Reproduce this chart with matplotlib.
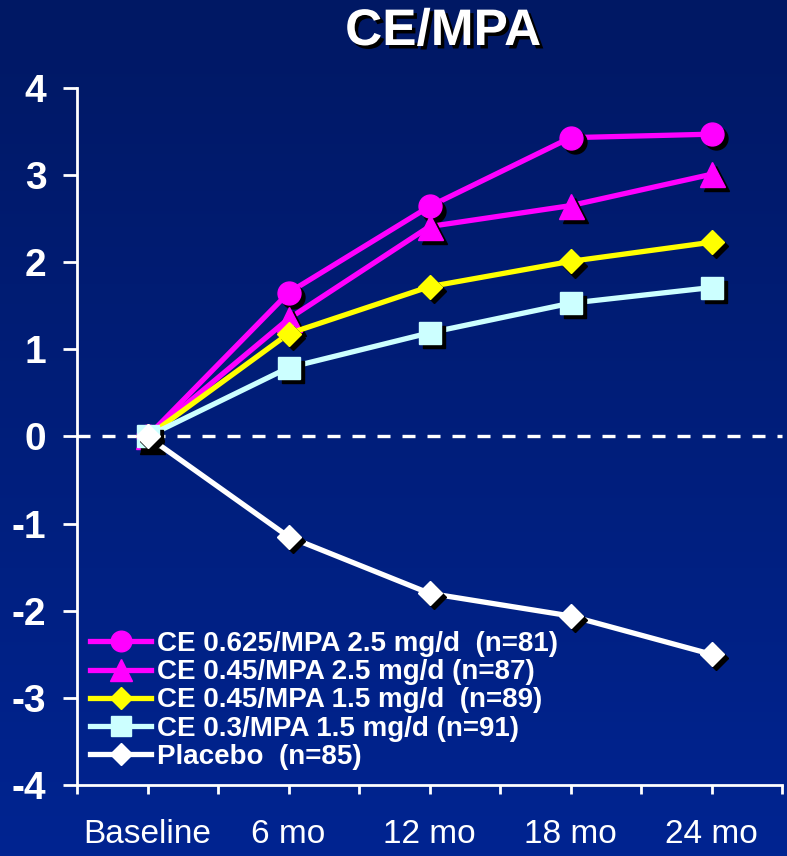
import numpy as np
import matplotlib
matplotlib.use("Agg")
import matplotlib.pyplot as plt
import matplotlib.patheffects as pe
from matplotlib.transforms import offset_copy

# ---- data ----
timepoints = ["Baseline", "6 mo", "12 mo", "18 mo", "24 mo"]
ce0625_mpa25 = [0.0, 1.65, 2.64, 3.43, 3.47]
ce045_mpa25 = [0.0, 1.35, 2.41, 2.65, 3.01]
ce045_mpa15 = [0.0, 1.18, 1.72, 2.01, 2.23]
ce03_mpa15 = [0.0, 0.79, 1.19, 1.53, 1.71]
placebo = [0.0, -1.15, -1.80, -2.06, -2.50]

series_labels = [
    "CE 0.625/MPA 2.5 mg/d  (n=81)",
    "CE 0.45/MPA 2.5 mg/d (n=87)",
    "CE 0.45/MPA 1.5 mg/d  (n=89)",
    "CE 0.3/MPA 1.5 mg/d (n=91)",
    "Placebo  (n=85)",
]
y_ticks = [4, 3, 2, 1, 0, -1, -2, -3, -4]
y_tick_labels = ["4", "3", "2", "1", "0", "-1", "-2", "-3", "-4"]
title_text = "CE/MPA"

series = [ce0625_mpa25, ce045_mpa25, ce045_mpa15, ce03_mpa15, placebo]
colors = ["#FF00FF", "#FF00FF", "#FFFF00", "#CCFFFF", "#FFFFFF"]
markers = ["o", "^", "D", "s", "D"]
msizes = [16.5, 18, 12.5, 16, 12.5]

BOLD = ["Liberation Sans", "DejaVu Sans"]

W, H = 787, 856
fig = plt.figure(figsize=(W / 100, H / 100), dpi=100)

# navy gradient background
bg = fig.add_axes([0, 0, 1, 1], zorder=-10)
top = np.array([0, 24, 100]) / 255
bot = np.array([0, 36, 145]) / 255
t = np.linspace(0, 1, 256)[:, None, None]
grad = top * (1 - t) + bot * t
bg.imshow(np.repeat(grad, 2, axis=1), aspect="auto", extent=[0, 1, 0, 1])
bg.set_axis_off()

ax = fig.add_axes([77 / W, 71 / H, 705 / W, 697 / H])
ax.set_facecolor("none")

x = np.arange(len(timepoints))
shadow_tr = offset_copy(ax.transData, fig=fig, x=3, y=-3, units="points")

for i, (vals, c, m, ms, lab) in enumerate(zip(series, colors, markers, msizes, series_labels)):
    z = 3 + i
    ax.plot(x, vals, color=c, lw=3.8, zorder=z, solid_capstyle="round")
    ax.plot(x, vals, ls="none", marker=m, ms=ms, color="black", mec="black",
            transform=shadow_tr, zorder=z + 0.1)
    ax.plot(x, vals, ls="none", marker=m, ms=ms, color=c, mec=c, zorder=z + 0.2)
    ax.plot([], [], color=c, lw=3.8, marker=m, ms=ms * 0.9, mec=c, label=lab)

ax.axhline(0, color="white", lw=2.4, dashes=(3.9, 3.6), zorder=2, clip_on=False)

ax.set_xlim(-0.5, 4.5)
ax.set_ylim(-4, 4)
for s in ["top", "right"]:
    ax.spines[s].set_visible(False)
for s in ["left", "bottom"]:
    ax.spines[s].set_color("white")
    ax.spines[s].set_linewidth(2.0)

ax.set_yticks(y_ticks)
ax.set_yticklabels(y_tick_labels, fontsize=28, fontweight="bold", family=BOLD, color="white")
ax.tick_params(axis="y", direction="out", length=10, width=2.0, color="white", pad=12)

# ticks every half step; category names sit on the whole steps
half_steps = np.arange(-0.5, 4.51, 0.5)
x_tick_labels = []
for pos in half_steps:
    k = int(round(pos))
    x_tick_labels.append(timepoints[k] if abs(pos - k) < 1e-9 else "")
ax.set_xticks(half_steps)
ax.set_xticklabels(x_tick_labels, fontsize=24, family=BOLD, color="white")
ax.tick_params(axis="x", direction="out", length=6.5, width=2.0, color="white", pad=18)

title = fig.text(443 / W, 1 - 45 / H, title_text, ha="center", va="baseline",
                 fontsize=37, fontweight="bold", family=BOLD, color="white")
title.set_path_effects([pe.SimplePatchShadow(offset=(2.5, -2.5), shadow_rgbFace="black", alpha=1.0),
                        pe.Normal()])

leg = ax.legend(loc="upper left", bbox_to_anchor=(90 / W, 1 - 631 / H),
                bbox_transform=fig.transFigure, frameon=False, borderpad=0,
                borderaxespad=0, handlelength=2.2, handletextpad=0.2,
                labelspacing=0.08,
                prop={"family": BOLD, "weight": "bold", "size": 20})
for txt in leg.get_texts():
    txt.set_color("white")
leg.set_zorder(20)

fig.savefig("out.png", dpi=100)
